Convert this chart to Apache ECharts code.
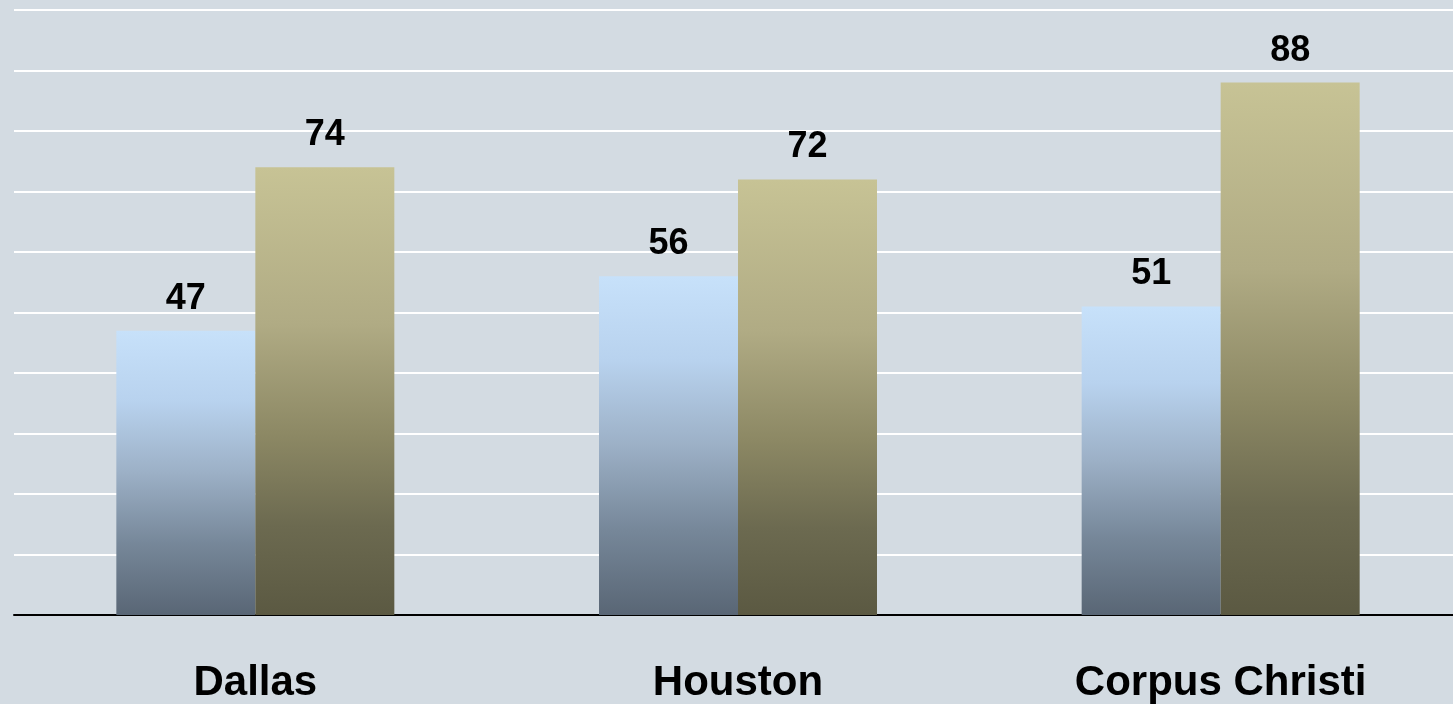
<!DOCTYPE html>
<html>
<head>
<meta charset="utf-8">
<style>
  html, body { margin: 0; padding: 0; background: #d3dbe2; }
  #chart { width: 1453px; height: 704px; }
</style>
<script src="https://cdn.jsdelivr.net/npm/echarts@6/dist/echarts.min.js"></script>
</head>
<body>
<div id="chart"></div>
<script>
  // data
  var categories = ['Dallas', 'Houston', 'Corpus Christi'];
  var seriesA = [47, 56, 51];   // light blue bars
  var seriesB = [74, 72, 88];   // khaki bars
  var yMin = 0, yMax = 100, yStep = 10;

  function grad(stops) {
    return new echarts.graphic.LinearGradient(0, 0, 0, 1, stops);
  }

  var blueFill = grad([
    { offset: 0, color: '#c7e1fa' },
    { offset: 0.25, color: '#b8d2ee' },
    { offset: 0.5, color: '#9cb0c6' },
    { offset: 0.75, color: '#768799' },
    { offset: 1, color: '#596675' }
  ]);
  var goldFill = grad([
    { offset: 0, color: '#c7c395' },
    { offset: 0.35, color: '#b0ab84' },
    { offset: 0.6, color: '#8c8864' },
    { offset: 0.8, color: '#6c6a50' },
    { offset: 1, color: '#5b5942' }
  ]);

  var labelStyle = {
    show: true,
    position: 'top',
    distance: 14,
    color: '#000',
    fontFamily: 'Liberation Sans, Arial, sans-serif',
    fontWeight: 'bold',
    fontSize: 36
  };

  var chart = echarts.init(document.getElementById('chart'));
  chart.setOption({
    backgroundColor: '#d3dbe2',
    animation: false,
    // plot runs a little past the right edge, like the original
    grid: {
      left: 14, width: 1448, top: 10, bottom: 89,
      containLabel: false, outerBoundsMode: 'none'
    },
    xAxis: {
      type: 'category',
      data: categories,
      axisLine: { lineStyle: { color: '#000', width: 2 } },
      axisTick: { show: false },
      axisLabel: {
        margin: 47,
        color: '#000',
        fontFamily: 'Liberation Sans, Arial, sans-serif',
        fontWeight: 'bold',
        fontSize: 42
      }
    },
    yAxis: {
      type: 'value',
      min: yMin,
      max: yMax,
      interval: yStep,
      axisLabel: { show: false },
      axisLine: { show: false },
      axisTick: { show: false },
      splitLine: { lineStyle: { color: '#ffffff', width: 2 } }
    },
    series: [
      {
        type: 'bar',
        data: seriesA,
        barWidth: 139,
        barGap: '0%',
        itemStyle: { color: blueFill },
        label: labelStyle
      },
      {
        type: 'bar',
        data: seriesB,
        barWidth: 139,
        barGap: '0%',
        itemStyle: { color: goldFill },
        label: labelStyle
      }
    ]
  });
</script>
</body>
</html>
